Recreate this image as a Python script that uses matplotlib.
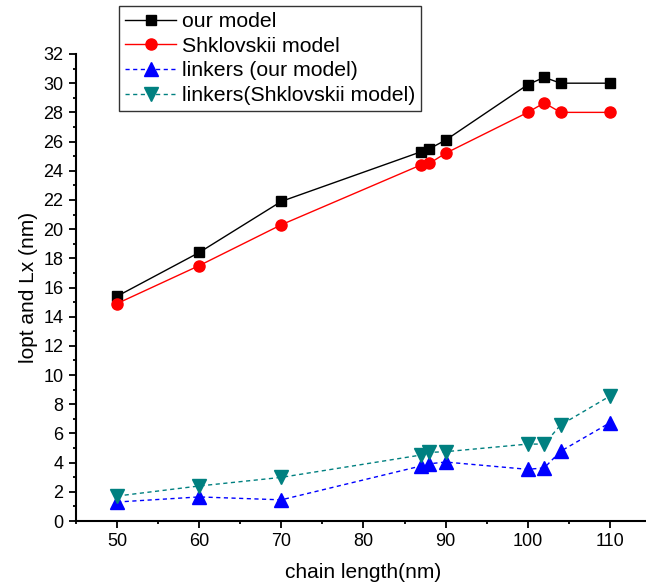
import numpy as np
from matplotlib import pyplot as plt
from matplotlib.ticker import MultipleLocator

plt.rcParams['font.family'] = ['Liberation Sans', 'DejaVu Sans']

chain = [50, 60, 70, 87, 88, 90, 100, 102, 104, 110]
our_model = [15.4, 18.4, 21.9, 25.3, 25.5, 26.1, 29.9, 30.4, 30.0, 30.0]
shklovskii = [14.9, 17.5, 20.3, 24.4, 24.5, 25.2, 28.0, 28.65, 28.0, 28.0]
linkers_our = [1.3, 1.65, 1.45, 3.77, 3.92, 4.04, 3.54, 3.64, 4.78, 6.73]
linkers_shk = [1.71, 2.4, 2.99, 4.52, 4.7, 4.75, 5.27, 5.27, 6.58, 8.56]

fig = plt.figure(figsize=(6.46, 5.86), dpi=100)
ax = fig.add_axes([76 / 646, 65 / 586, 575 / 646, 467 / 586])

ax.plot(chain, our_model, color='black', lw=1, marker='s', ms=7.5,
        label='our model')
ax.plot(chain, shklovskii, color='red', lw=1, marker='o', ms=8,
        label='Shklovskii model')
ax.plot(chain, linkers_our, color='blue', lw=1, ls=(0, (3, 2.5)), marker='^',
        ms=10, label='linkers (our model)')
ax.plot(chain, linkers_shk, color='#008080', lw=1, ls=(0, (3, 2.5)),
        marker='v', ms=10, label='linkers(Shklovskii model)')

ax.set_xlim(45, 115)
ax.set_ylim(0, 32)
ax.xaxis.set_major_locator(MultipleLocator(10))
ax.xaxis.set_minor_locator(MultipleLocator(5))
ax.yaxis.set_major_locator(MultipleLocator(2))
ax.yaxis.set_minor_locator(MultipleLocator(1))

for side in ['top', 'right']:
    ax.spines[side].set_visible(False)
for side in ['left', 'bottom']:
    ax.spines[side].set_linewidth(1.5)

ax.tick_params(which='major', direction='out', length=5, width=1.3,
               labelsize=13, pad=4)
ax.tick_params(which='minor', direction='out', length=2.5, width=1.3)

ax.set_xlabel('chain length(nm)', fontsize=15, labelpad=9)
ax.set_ylabel('lopt and Lx (nm)', fontsize=15, labelpad=4)

leg = ax.legend(loc='upper left', bbox_to_anchor=(43 / 575, 515 / 467),
                borderaxespad=0, fontsize=15.3, frameon=True, fancybox=False,
                handlelength=2.4, handletextpad=0.25, labelspacing=0.26,
                borderpad=0.3)
leg.get_frame().set_edgecolor('black')
leg.get_frame().set_linewidth(1)

fig.savefig('out.png', dpi=100)
